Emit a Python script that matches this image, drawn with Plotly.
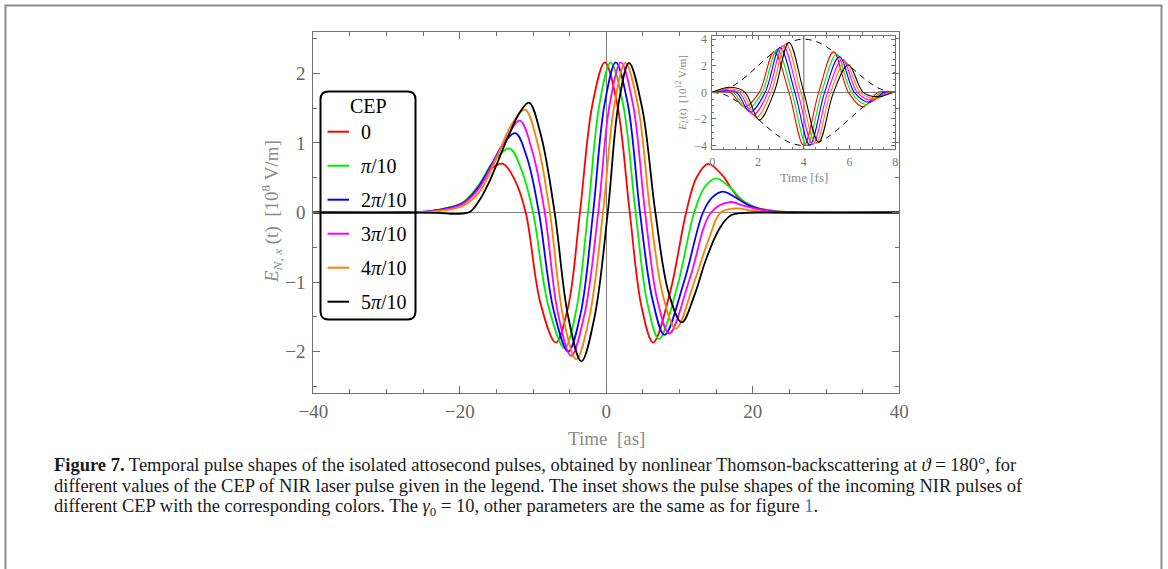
import plotly.graph_objects as go

W, H = 1168, 569

# ---------------- data: main plot (Time [as], E_N,x [1e8 V/m]) ----------------
cep_labels = ["0", "<i>π</i>/10", "2<i>π</i>/10", "3<i>π</i>/10", "4<i>π</i>/10", "5<i>π</i>/10"]
colors = ["#ff0000", "#00ee00", "#0000ff", "#ff00ff", "#ff8000", "#000000"]

t_red = [-40, -27, -24, -21.5, -19.5, -17.5, -15.8, -14.1, -12.5, -11.0, -9.0, -6.9, -5.2, -3.6, -1.9, -0.2, 1.5, 3.2, 4.8, 6.4, 8.7, 10.9, 12.3, 13.9, 15.8, 18.0, 20.5, 23.5, 27, 40]
e_red = [0, 0, 0.02, 0.07, 0.14, 0.38, 0.62, 0.70, 0.47, 0, -1.3, -1.87, -1.35, 0, 1.55, 2.16, 1.55, 0, -1.35, -1.87, -1.15, 0, 0.5, 0.70, 0.54, 0.22, 0.07, 0.015, 0, 0]

t_green = [-40, -27, -24, -21.5, -19.5, -17.5, -15.5, -13.2, -11.6, -10.0, -7.9, -5.7, -4.1, -2.5, -0.95, 0.6, 2.3, 4.0, 5.6, 7.2, 9.6, 12.0, 13.4, 15.0, 16.8, 18.8, 21, 24, 28, 40]
e_green = [0, 0, 0.02, 0.07, 0.15, 0.38, 0.72, 0.92, 0.62, 0, -1.35, -1.95, -1.4, 0, 1.55, 2.16, 1.55, 0, -1.3, -1.82, -1.1, 0, 0.36, 0.49, 0.37, 0.16, 0.05, 0.01, 0, 0]

t_blue = [-40, -27, -24, -21.5, -19.5, -17.5, -15.5, -14.0, -12.4, -10.8, -9.2, -7.2, -5.2, -3.5, -1.8, -0.25, 1.3, 2.95, 4.6, 6.3, 7.95, 10.6, 13.2, 14.5, 15.9, 17.6, 19.5, 22, 25, 40]
e_blue = [0, 0, 0.02, 0.065, 0.14, 0.36, 0.72, 1.0, 1.14, 0.78, 0, -1.4, -2.0, -1.45, 0, 1.55, 2.16, 1.55, 0, -1.25, -1.76, -1.0, 0, 0.22, 0.30, 0.22, 0.1, 0.025, 0, 0]

t_mag = [-40, -27, -24, -21.5, -19.5, -17.5, -15.5, -13.6, -11.8, -10.1, -8.4, -6.6, -4.8, -2.95, -1.1, 0.45, 2.0, 3.65, 5.3, 6.95, 8.6, 11.4, 14.3, 16.8, 19, 21.5, 25, 40]
e_mag = [0, 0, 0.015, 0.055, 0.13, 0.33, 0.7, 1.08, 1.32, 0.88, 0, -1.45, -2.06, -1.45, 0, 1.55, 2.16, 1.55, 0, -1.25, -1.74, -0.95, 0, 0.15, 0.09, 0.03, 0, 0]

t_orange = [-40, -27, -24, -21.5, -19.5, -17.3, -15.0, -13.0, -11.1, -9.4, -7.7, -5.9, -4.1, -2.3, -0.45, 1.1, 2.6, 4.3, 6.0, 7.75, 9.5, 12.0, 14.0, 15.6, 17.7, 20, 23, 40]
e_orange = [0, 0, 0.01, 0.04, 0.1, 0.3, 0.78, 1.25, 1.48, 1.0, 0, -1.5, -2.11, -1.5, 0, 1.55, 2.15, 1.55, 0, -1.2, -1.67, -1.0, -0.38, 0, 0.06, 0.025, 0, 0]

t_black = [-40, -27, -23, -20.5, -18.6, -17.3, -15.9, -13.6, -11.8, -10.55, -8.9, -7.05, -5.2, -3.4, -1.6, 0.2, 1.65, 3.1, 4.9, 6.7, 8.5, 10.3, 12.0, 13.6, 15.45, 17.0, 19, 22, 40]
e_black = [0, 0, -0.005, -0.02, 0.01, 0.18, 0.46, 1.04, 1.44, 1.58, 1.1, 0, -1.5, -2.14, -1.5, 0, 1.55, 2.15, 1.5, 0, -1.15, -1.58, -1.2, -0.68, -0.23, -0.04, -0.005, 0, 0]

main_t = [t_red, t_green, t_blue, t_mag, t_orange, t_black]
main_e = [e_red, e_green, e_blue, e_mag, e_orange, e_black]

# ---------------- data: inset (Time [fs], E_L [1e12 V/m]) ----------------
it_red = [0, 0.15, 0.78, 1.4, 2.05, 2.7, 3.35, 4.0, 4.65, 5.3, 5.95, 6.6, 7.25, 7.9, 8]
ie_red = [0, 0.014, 0, -1.09, 0, 3.04, 0, -4.0, 0, 3.04, 0, -1.09, 0, 0.006, 0]
it_green = [0, 0.28, 0.91, 1.53, 2.18, 2.83, 3.48, 4.13, 4.78, 5.43, 6.08, 6.73, 7.38, 8]
ie_green = [0, 0.048, 0, -1.28, 0, 3.21, 0, -3.99, 0, 2.87, 0, -0.92, 0, 0]
it_blue = [0, 0.41, 1.04, 1.66, 2.31, 2.96, 3.61, 4.26, 4.91, 5.56, 6.21, 6.86, 7.51, 8]
ie_blue = [0, 0.10, 0, -1.47, 0, 3.37, 0, -3.96, 0, 2.68, 0, -0.75, 0, 0]
it_mag = [0, 0.54, 1.17, 1.79, 2.44, 3.09, 3.74, 4.39, 5.04, 5.69, 6.34, 6.99, 7.64, 8]
ie_mag = [0, 0.18, 0, -1.67, 0, 3.51, 0, -3.91, 0, 2.48, 0, -0.60, 0, 0]
it_orange = [0, 0.67, 1.30, 1.92, 2.57, 3.22, 3.87, 4.52, 5.17, 5.82, 6.47, 7.12, 7.77, 8]
ie_orange = [0, 0.27, 0, -1.88, 0, 3.63, 0, -3.84, 0, 2.28, 0, -0.46, 0, 0]
it_black = [0, 0.80, 1.43, 2.05, 2.70, 3.35, 4.00, 4.65, 5.30, 5.95, 6.60, 7.25, 7.90, 8]
ie_black = [0, 0.38, 0, -2.08, 0, 3.75, 0, -3.74, 0, 2.08, 0, -0.34, 0, 0]

inset_t = [it_red, it_green, it_blue, it_mag, it_orange, it_black]
inset_e = [ie_red, ie_green, ie_blue, ie_mag, ie_orange, ie_black]

env_t = [0, 0.5, 1, 1.5, 2, 2.5, 3, 3.5, 4, 4.5, 5, 5.5, 6, 6.5, 7, 7.5, 8]
env_up = [0, 0.152, 0.586, 1.235, 2.0, 2.765, 3.414, 3.848, 4.0, 3.848, 3.414, 2.765, 2.0, 1.235, 0.586, 0.152, 0]
env_lo = [-v for v in env_up]

x_ticks = [-40, -20, 0, 20, 40]
y_ticks = [-2, -1, 0, 1, 2]
ix_ticks = [0, 2, 4, 6, 8]
iy_ticks = [-4, -2, 0, 2, 4]

# ---------------- figure ----------------
def px(x):
    return x / W

def py(y):
    return 1 - y / H

fig = go.Figure()

for t, e, c in zip(main_t, main_e, colors):
    fig.add_trace(go.Scatter(x=t, y=e, mode="lines", line=dict(color=c, width=1.8, shape="spline", smoothing=1),
                             xaxis="x", yaxis="y", showlegend=False, hoverinfo="skip"))

for yy in (env_up, env_lo):
    fig.add_trace(go.Scatter(x=env_t, y=yy, mode="lines", line=dict(color="black", width=1, dash="6px,5px", shape="spline"),
                             xaxis="x2", yaxis="y2", showlegend=False, hoverinfo="skip"))
for t, e, c in zip(inset_t, inset_e, colors):
    fig.add_trace(go.Scatter(x=t, y=e, mode="lines", line=dict(color=c, width=1.1, shape="spline", smoothing=1),
                             xaxis="x2", yaxis="y2", showlegend=False, hoverinfo="skip"))

FRAME = "#707070"
TICKC = "#666666"
serif = "Liberation Serif"

axis_common = dict(showline=True, linecolor=FRAME, linewidth=1, mirror="ticks", ticks="inside",
                   tickcolor=FRAME, showgrid=False, zeroline=True, zerolinecolor="#808080", zerolinewidth=1,
                   automargin=False)

fig.update_layout(
    width=W, height=H, autosize=False,
    margin=dict(l=0, r=0, t=0, b=0, pad=0, autoexpand=False),
    paper_bgcolor="white", plot_bgcolor="rgba(0,0,0,0)",
    showlegend=False,
    font=dict(family=serif, color=TICKC),
    xaxis=dict(domain=[px(313.3), px(899.3)], range=[-40, 40], anchor="y",
               tickvals=x_ticks, ticklen=7, tickwidth=1,
               minor=dict(dtick=5, tick0=0, ticklen=4, ticks="inside", tickcolor=FRAME),
               tickfont=dict(size=19, color=TICKC), ticklabelstandoff=1, **axis_common),
    yaxis=dict(domain=[py(393.3), py(31.7)], range=[-2.6, 2.6], anchor="x",
               tickvals=y_ticks, ticklen=7, tickwidth=1,
               minor=dict(dtick=0.5, tick0=0, ticklen=4, ticks="inside", tickcolor=FRAME),
               tickfont=dict(size=19, color=TICKC), ticklabelstandoff=3, **axis_common),
    xaxis2=dict(domain=[px(712.3), px(895.3)], range=[0, 8], anchor="y2",
                tickvals=ix_ticks, ticklen=4, tickwidth=1,
                minor=dict(dtick=0.5, tick0=0, ticklen=2, ticks="inside", tickcolor=FRAME),
                tickfont=dict(size=12, color="#777777"), ticklabelstandoff=2, **axis_common),
    yaxis2=dict(domain=[py(149), py(35.7)], range=[-4.26, 4.26], anchor="x2",
                tickvals=iy_ticks, ticklen=4, tickwidth=1,
                minor=dict(dtick=0.5, tick0=0, ticklen=2, ticks="inside", tickcolor=FRAME),
                tickfont=dict(size=12, color="#777777"), ticklabelstandoff=2, **axis_common),
)

shapes = []
# inset vertical axis at t = 4 fs
shapes.append(dict(type="line", xref="x2", yref="y2 domain", x0=4, x1=4, y0=0, y1=1,
                   line=dict(color="#808080", width=1.2), layer="below"))
# outer page frame
shapes.append(dict(type="rect", xref="paper", yref="paper", x0=px(5.5), x1=px(1161.5), y0=py(600), y1=py(5.5),
                   line=dict(color="#8c8c8c", width=2)))
# legend box (rounded)
lx0, lx1, ly0, ly1, r = 320.5, 415.5, 91.5, 319.5, 8
def P(x, y):
    return f"{px(x):.5f},{py(y):.5f}"
path = (f"M {P(lx0 + r, ly0)} L {P(lx1 - r, ly0)} Q {P(lx1, ly0)} {P(lx1, ly0 + r)} "
        f"L {P(lx1, ly1 - r)} Q {P(lx1, ly1)} {P(lx1 - r, ly1)} "
        f"L {P(lx0 + r, ly1)} Q {P(lx0, ly1)} {P(lx0, ly1 - r)} "
        f"L {P(lx0, ly0 + r)} Q {P(lx0, ly0)} {P(lx0 + r, ly0)} Z")
shapes.append(dict(type="path", xref="paper", yref="paper", path=path, line=dict(color="black", width=2)))

annotations = []
annotations.append(dict(xref="paper", yref="paper", x=px(368), y=py(106), text="CEP", showarrow=False,
                        font=dict(size=20, color="black", family=serif), xanchor="center", yanchor="middle"))
for i, (lab, c) in enumerate(zip(cep_labels, colors)):
    yc = 131.7 + 34 * i
    shapes.append(dict(type="line", xref="paper", yref="paper", x0=px(327.5), x1=px(349), y0=py(yc), y1=py(yc),
                       line=dict(color=c, width=2)))
    annotations.append(dict(xref="paper", yref="paper", x=px(359), y=py(yc), text=lab, showarrow=False,
                            font=dict(size=20, color="black", family=serif), xanchor="left", yanchor="middle"))

# axis titles
annotations.append(dict(xref="paper", yref="paper", x=px(271), y=py(212), textangle=-90, showarrow=False,
                        text="<i>E</i><sub><i>N</i>, <i>x</i></sub> (t)  [10<sup>8</sup> V/m]",
                        font=dict(size=19, color="#8a8a8a", family=serif), xanchor="center", yanchor="middle"))
annotations.append(dict(xref="paper", yref="paper", x=px(606), y=py(438), showarrow=False,
                        text="Time  [as]", font=dict(size=19, color="#8a8a8a", family=serif),
                        xanchor="center", yanchor="middle"))
annotations.append(dict(xref="paper", yref="paper", x=px(682), y=py(93), textangle=-90, showarrow=False,
                        text="<i>E<sub>L</sub></i>(t)  [10<sup>12</sup> V/m]",
                        font=dict(size=11, color="#888888", family=serif), xanchor="center", yanchor="middle"))
annotations.append(dict(xref="paper", yref="paper", x=px(804), y=py(177), showarrow=False,
                        text="Time [fs]", font=dict(size=13, color="#888888", family=serif),
                        xanchor="center", yanchor="middle"))

# caption
cap = [
    "<b>Figure 7.</b> Temporal pulse shapes of the isolated attosecond pulses, obtained by nonlinear Thomson-backscattering at <i>ϑ</i> = 180°, for",
    "different values of the CEP of NIR laser pulse given in the legend. The inset shows the pulse shapes of the incoming NIR pulses of",
    "different CEP with the corresponding colors. The <i>γ</i><sub>0</sub> = 10, other parameters are the same as for figure <span style='color:#1f7fc4'>1</span>.",
]
for i, line in enumerate(cap):
    annotations.append(dict(xref="paper", yref="paper", x=px(52), y=py(465 + 21 * i), text=line, showarrow=False,
                            font=dict(size=18.5, color="#1a1a1a", family=serif), xanchor="left", yanchor="middle",
                            align="left"))

fig.update_layout(shapes=shapes, annotations=annotations)
fig.write_html("out.html")
